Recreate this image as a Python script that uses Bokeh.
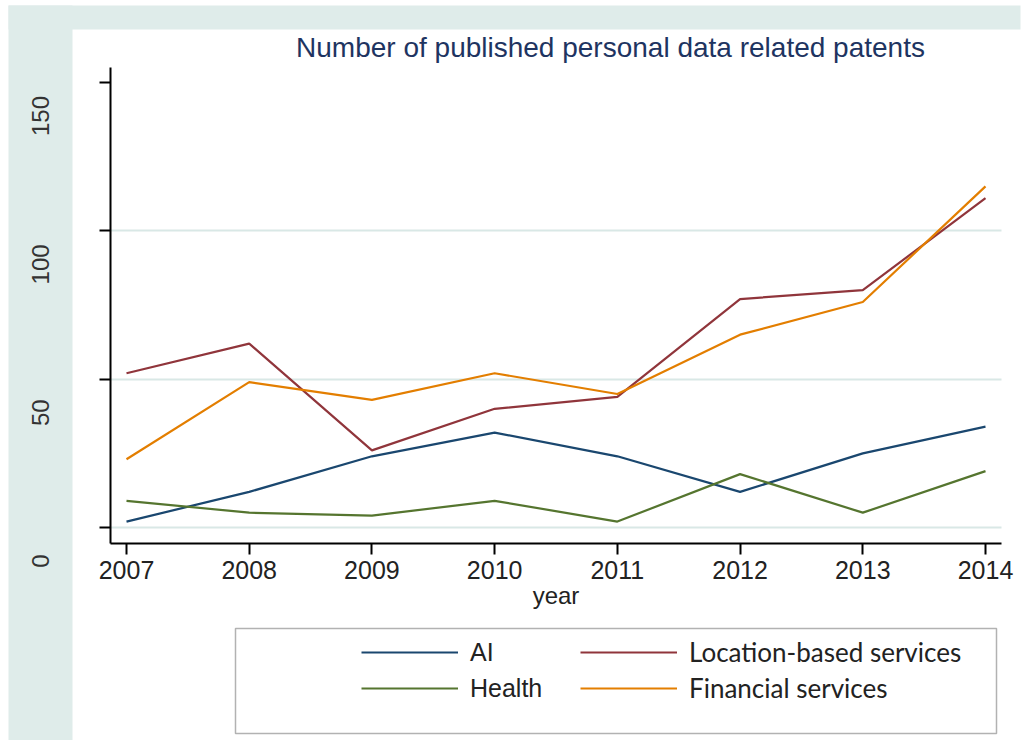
from bokeh.plotting import figure
from bokeh.models import (Range1d, LinearAxis, FixedTicker, Legend, LegendItem,
                          BoxAnnotation, Grid, Label)
from bokeh.embed import file_html
from bokeh.resources import INLINE

# ---- data ----
years = [2007, 2008, 2009, 2010, 2011, 2012, 2013, 2014]
ai = [2, 12, 24, 32, 24, 12, 25, 34]
health = [9, 5, 4, 9, 2, 18, 5, 19]
location = [52, 62, 26, 40, 44, 77, 80, 111]
financial = [23, 49, 43, 52, 45, 65, 76, 115]
y_ticks = [0, 50, 100, 150]
grid_ticks = [0, 50, 100]
series_names = ["AI", "Health", "Location-based services", "Financial services"]
title_text = "Number of published personal data related patents"
x_label = "year"

STRIP = "#dfecea"
TXT = "#222222"
W, H = 1024, 740

# pixel geometry of the plot region (whole canvas is the frame)
PX_PER_YEAR = 122.714
PX_PER_UNIT = 2.9667
X0_PX, Y0_PX = 126, 527          # where 2007 / 0 lie
x_lo = years[0] - X0_PX / PX_PER_YEAR
x_hi = years[-1] + (W - 985) / PX_PER_YEAR
y_lo = -(H - Y0_PX) / PX_PER_UNIT
y_hi = Y0_PX / PX_PER_UNIT
ax_left = x_lo + 110 / PX_PER_YEAR       # y-axis position
ax_right = x_lo + 1001 / PX_PER_YEAR     # end of x axis
ax_bottom = -(543 - Y0_PX) / PX_PER_UNIT  # x-axis position
ax_top = (Y0_PX - 67) / PX_PER_UNIT
LAB_SHIFT = 11.3                           # y labels sit below their ticks
lab_loc = x_lo + 60 / PX_PER_YEAR

p = figure(width=W, height=H, output_backend="svg", toolbar_location=None,
           x_range=Range1d(x_lo, x_hi), y_range=Range1d(y_lo, y_hi),
           x_axis_type=None, y_axis_type=None,
           min_border_left=0, min_border_right=0, min_border_top=0,
           min_border_bottom=0)
p.outline_line_color = None
p.background_fill_color = "white"
p.border_fill_color = "white"

# decorative strips
p.add_layout(BoxAnnotation(left=8, right=72, top=5, bottom=H,
                           left_units="canvas", right_units="canvas",
                           top_units="canvas", bottom_units="canvas",
                           fill_color=STRIP, fill_alpha=1, line_color=None,
                           level="underlay"))
p.add_layout(BoxAnnotation(left=8, right=1020, top=5, bottom=29,
                           left_units="canvas", right_units="canvas",
                           top_units="canvas", bottom_units="canvas",
                           fill_color=STRIP, fill_alpha=1, line_color=None,
                           level="underlay"))

# title
p.add_layout(Label(x=610, y=H - 47, x_units="screen", y_units="screen",
                   text=title_text, text_align="center", text_baseline="middle",
                   text_font="Liberation Sans", text_font_size="28px",
                   text_color="#1e3461"))

# grid
p.add_layout(Grid(dimension=1, ticker=FixedTicker(ticks=grid_ticks),
                  cross_bounds=(ax_left, ax_right),
                  grid_line_color="#d9e8e6", grid_line_width=2))

# main y axis (line + ticks)
yax = LinearAxis(ticker=FixedTicker(ticks=y_ticks), bounds=(ax_bottom, ax_top),
                 fixed_location=ax_left,
                 axis_line_width=2, axis_line_color="black",
                 major_tick_line_width=2, major_tick_line_color="black",
                 major_tick_out=11, major_tick_in=0,
                 minor_tick_line_color=None,
                 major_label_text_color=None)
p.add_layout(yax, "left")

# label axis (offset labels, as in the reference)
p.extra_y_ranges = {"lab": Range1d(y_lo + LAB_SHIFT, y_hi + LAB_SHIFT)}
lab = LinearAxis(y_range_name="lab", ticker=FixedTicker(ticks=y_ticks),
                 fixed_location=lab_loc,
                 axis_line_color=None, major_tick_line_color=None,
                 major_tick_out=0, major_tick_in=0, minor_tick_line_color=None,
                 major_label_orientation="vertical", major_label_standoff=11,
                 major_label_text_font="Liberation Sans",
                 major_label_text_font_size="24px",
                 major_label_text_color="#333333")
p.add_layout(lab, "left")

# x axis
xax = LinearAxis(ticker=FixedTicker(ticks=years), fixed_location=ax_bottom,
                 bounds=(ax_left, ax_right),
                 axis_label=x_label,
                 axis_line_width=2, axis_line_color="black",
                 major_tick_line_width=2, major_tick_line_color="black",
                 major_tick_out=11, major_tick_in=0,
                 minor_tick_line_color=None,
                 major_label_standoff=6,
                 major_label_text_font="Liberation Sans",
                 major_label_text_font_size="25px",
                 major_label_text_color=TXT,
                 axis_label_standoff=0,
                 axis_label_text_font="Liberation Sans",
                 axis_label_text_font_size="24px",
                 axis_label_text_font_style="normal",
                 axis_label_text_color=TXT)
p.add_layout(xax, "below")

# series
r_ai = p.line(years, ai, line_color="#1a476f", line_width=2.2)
r_h = p.line(years, health, line_color="#55752f", line_width=2.2)
r_loc = p.line(years, location, line_color="#90353b", line_width=2.2)
r_fin = p.line(years, financial, line_color="#e37e00", line_width=2.2)

common = dict(orientation="vertical", glyph_width=97, glyph_height=36,
              label_height=36, label_standoff=12, spacing=0, padding=0,
              margin=0, border_line_color=None, background_fill_alpha=0,
              label_text_color=TXT)
leg1 = Legend(items=[LegendItem(label=series_names[0], renderers=[r_ai]),
                     LegendItem(label=series_names[1], renderers=[r_h])],
              location=(361, H - 706), label_text_font="Liberation Sans",
              label_text_font_size="25px", **common)
leg2 = Legend(items=[LegendItem(label=series_names[2], renderers=[r_loc]),
                     LegendItem(label=series_names[3], renderers=[r_fin])],
              location=(580, H - 706), label_text_font="Lato",
              label_text_font_size="26px", **common)
p.add_layout(leg1)
p.add_layout(leg2)

# legend frame
p.add_layout(BoxAnnotation(left=235, right=996, top=628, bottom=733,
                           left_units="canvas", right_units="canvas",
                           top_units="canvas", bottom_units="canvas",
                           fill_color=None, line_color="black", line_width=1.5,
                           level="overlay"))

open("out.html", "w").write(file_html(p, INLINE))
